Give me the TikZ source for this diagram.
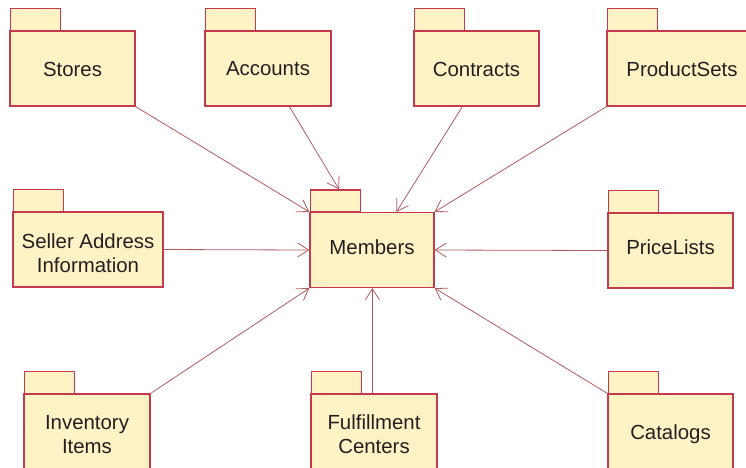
\documentclass[tikz,border=0pt]{standalone}
\usepackage{fontspec}
\setmainfont{Liberation Sans}
\usetikzlibrary{arrows.meta,calc}
\definecolor{pkgfill}{HTML}{FFF3C6}
\definecolor{pkgline}{HTML}{C43A4C}
\definecolor{edgecol}{HTML}{B35A5F}
\definecolor{txt}{HTML}{231F20}
\tikzset{
  pkgbody/.style={draw=pkgline, fill=pkgfill, line width=1.2pt, minimum height=75pt,
    inner sep=0pt},
  pkgtext/.style={align=center, text=txt, inner sep=0pt, font=\fontsize{20.4}{24}\selectfont},
  pkgtab/.style={draw=pkgline, fill=pkgfill, line width=1.2pt, minimum width=50pt,
    minimum height=22pt, inner sep=0pt},
  dep/.style={draw=edgecol, line width=0.8pt, -{Straight Barb[length=11pt,width=14pt]}}
}
\newcommand\pkgnode[6]{%
  \node[pkgtab, anchor=south west] (#1tab) at ($(#2,#3)+(-#4/2,-37.5)$) {};
  \node[pkgbody, minimum width=#4pt] (#1) at (#2,#3) {};
  \node[pkgtext] (#1txt) at ($(#1.center)+(0,#6)$) {#5};
}
\begin{document}
\begin{tikzpicture}[x=1pt,y=-1pt]
\clip (0,0) rectangle (746,467);
\pkgnode{stores}{72.5}{68.5}{125}{Stores}{0.5}
\pkgnode{accounts}{268}{68.5}{126}{Accounts}{0.5}
\pkgnode{contracts}{476.5}{68.5}{125}{Contracts}{0.5}
\pkgnode{productsets}{682}{68.5}{150}{ProductSets}{0.5}
\pkgnode{seller}{88}{249.5}{150}{Seller Address\\Information}{3.5}
\pkgnode{members}{372}{250}{124}{Members}{-2.5}
\pkgnode{pricelists}{670.5}{250.5}{125}{PriceLists}{-3}
\pkgnode{inventory}{87}{431.5}{126}{Inventory\\Items}{3}
\pkgnode{fulfillment}{374}{431.5}{126}{Fulfillment\\Centers}{3}
\pkgnode{catalogs}{670.5}{431.5}{125}{Catalogs}{2.5}

\coordinate (accStart) at ($(accounts.south west)+(85,0)$);
\coordinate (accEnd) at ($(memberstab.north west)+(29,0)$);
\coordinate (conStart) at ($(contracts.south west)+(49,0)$);
\coordinate (conEnd) at ($(members.north west)+(87,0)$);
\coordinate (fulStart) at ($(fulfillment.north west)+(62,0)$);

\draw[dep] (stores.south east) -- (members.north west);
\draw[dep] (accStart) -- (accEnd);
\draw[dep] (conStart) -- (conEnd);
\draw[dep] (productsets.south west) -- (members.north east);
\draw[dep] (seller.east) -- (members.west);
\draw[dep] (pricelists.west) -- (members.east);
\draw[dep] (inventory.north east) -- (members.south west);
\draw[dep] (fulStart) -- (fulStart |- members.south);
\draw[dep] (catalogs.north west) -- (members.south east);
\end{tikzpicture}
\end{document}
